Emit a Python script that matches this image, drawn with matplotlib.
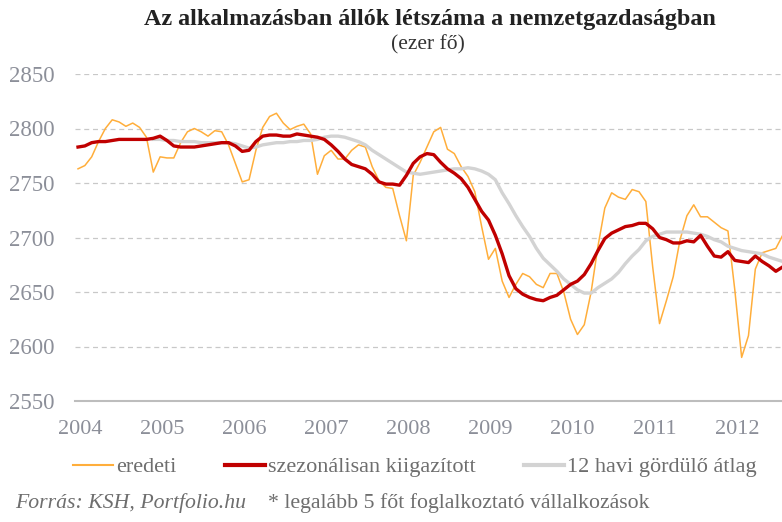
import matplotlib
matplotlib.use("Agg")
import matplotlib.pyplot as plt
from matplotlib.lines import Line2D
import numpy as np

years = ["2004", "2005", "2006", "2007", "2008", "2009", "2010", "2011", "2012"]

# monthly values from Jan 2004
eredeti = [2763, 2766, 2774, 2788, 2800, 2808, 2806, 2802, 2805, 2801, 2792, 2760,
           2774, 2773, 2773, 2787, 2797, 2800, 2797, 2793, 2798, 2797, 2785, 2768,
           2751, 2753, 2780, 2801, 2811, 2814, 2805, 2799, 2802, 2804, 2795, 2758,
           2775, 2780, 2772, 2772, 2780, 2785, 2783, 2765, 2752, 2746, 2745, 2720,
           2697, 2757, 2769, 2783, 2797, 2801, 2781, 2777, 2765, 2756, 2742, 2710,
           2680, 2690, 2660, 2645, 2657, 2667, 2664, 2657, 2654, 2667, 2667, 2650,
           2625, 2611, 2620, 2650, 2692, 2727, 2741, 2737, 2735, 2744, 2742, 2733,
           2673, 2621, 2642, 2664, 2698, 2720, 2730, 2719, 2719, 2714, 2709, 2706,
           2652, 2590, 2610, 2671, 2686, 2688, 2690, 2702]

szezonalis = [2783, 2784, 2787, 2788, 2788, 2789, 2790, 2790, 2790, 2790, 2790, 2791,
              2793, 2789, 2784, 2783, 2783, 2783, 2784, 2785, 2786, 2787, 2787, 2784,
              2779, 2780, 2788, 2793, 2794, 2794, 2793, 2793, 2795, 2794, 2793, 2792,
              2790, 2785, 2779, 2772, 2767, 2765, 2763, 2758, 2751, 2749, 2749, 2748,
              2757, 2768, 2774, 2777, 2776, 2769, 2763, 2759, 2754, 2746, 2735, 2724,
              2716, 2702, 2685, 2665, 2653, 2648, 2645, 2643, 2642, 2645, 2647, 2652,
              2657, 2660, 2666, 2676, 2688, 2699, 2704, 2707, 2710, 2711, 2713, 2713,
              2708, 2700, 2698, 2695, 2695, 2697, 2696, 2702, 2692, 2683, 2682, 2687,
              2679, 2678, 2677, 2683, 2678, 2674, 2669, 2673]

# 12-month rolling average, available from Dec 2004
atlag = [2790,
         2790, 2789, 2789, 2788, 2788, 2788, 2787, 2787, 2787, 2787, 2787, 2786,
         2784, 2782, 2783, 2785, 2786, 2787, 2787, 2788, 2788, 2789, 2789, 2790,
         2792, 2793, 2793, 2792, 2790, 2788, 2785, 2780, 2776, 2772, 2768, 2764,
         2760, 2759, 2758, 2759, 2760, 2761, 2762, 2763, 2763, 2764, 2763, 2761,
         2758, 2753, 2741, 2731, 2720, 2710, 2701, 2690, 2681, 2675, 2669, 2662,
         2657, 2652, 2649, 2649, 2654, 2658, 2662, 2668, 2676, 2683, 2689, 2697,
         2701, 2703, 2705, 2705, 2705, 2705, 2704, 2703, 2701, 2698, 2696, 2692,
         2690, 2688, 2687, 2686, 2685, 2682, 2680, 2678]
atlag_start = 11

x_all = np.arange(len(eredeti))
x_avg = np.arange(atlag_start, atlag_start + len(atlag))

SERIF = ["Liberation Serif", "DejaVu Serif"]
plt.rcParams["font.family"] = SERIF

fig = plt.figure(figsize=(7.82, 5.22), dpi=100)
L, R, B, T = 75 / 782, 782 / 782, 1 - 401 / 522, 1 - 74 / 522
ax = fig.add_axes([L, B, R - L, T - B])

c_or = "#FFAE3B"
c_red = "#C00000"
c_gray = "#D3D3D3"
tick_col = "#8C8F99"
txt_col = "#6E6E6E"

ax.plot(x_all, eredeti, color=c_or, lw=1.1, zorder=3, solid_joinstyle="round")
ax.plot(x_avg, atlag, color=c_gray, lw=2.4, zorder=4, solid_joinstyle="round")
ax.plot(x_all, szezonalis, color=c_red, lw=2.4, zorder=5, solid_joinstyle="round")

ax.set_ylim(2550, 2850)
ax.set_xlim(-0.44, 102.9)
ax.set_yticks(np.arange(2550, 2851, 50))
ax.yaxis.grid(True, color="#C8C8C8", linestyle=(0, (4, 3)), lw=0.9)
ax.set_axisbelow(True)
ax.set_xticks(np.arange(len(years)) * 12 + 0.3)
ax.set_xticklabels(years)
for s in ["top", "right", "left"]:
    ax.spines[s].set_visible(False)
ax.spines["bottom"].set_color("#BDBDBD")
ax.spines["bottom"].set_linewidth(1.5)
ax.tick_params(axis="y", length=0, pad=15, labelsize=16.5, labelcolor=tick_col)
ax.tick_params(axis="x", length=0, pad=14, labelsize=16, labelcolor=tick_col)

fig.text(430 / 782, 1 - 20 / 522, "Az alkalmazásban állók létszáma a nemzetgazdaságban",
         ha="center", va="center", fontsize=17.4, fontweight="bold", color="#222222")
fig.text(428 / 782, 1 - 45 / 522, "(ezer fő)", ha="center", va="center",
         fontsize=15.5, color="#333333")

handles = [Line2D([], [], color=c_or, lw=1.5),
           Line2D([], [], color=c_red, lw=3),
           Line2D([], [], color=c_gray, lw=3)]
labels = ["eredeti", "szezonálisan kiigazított", "12 havi gördülő átlag"]
fig.legend(handles, labels, loc="center", bbox_to_anchor=(415 / 782, 1 - 467 / 522),
           ncol=3, frameon=False, fontsize=16, handlelength=1.8, handletextpad=0.12,
           columnspacing=2.2, labelcolor=txt_col)

fig.text(15 / 782, 1 - 503 / 522, "Forrás: KSH, Portfolio.hu", ha="left", va="center",
         fontsize=15.7, style="italic", color=txt_col)
fig.text(268 / 782, 1 - 503 / 522, "* legalább 5 főt foglalkoztató vállalkozások",
         ha="left", va="center", fontsize=15.7, color=txt_col)

fig.savefig("out.png", dpi=100)
